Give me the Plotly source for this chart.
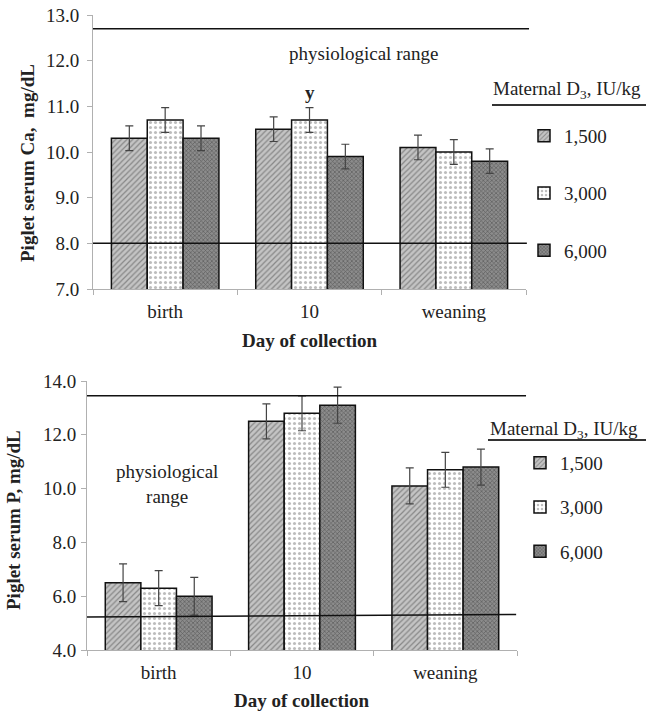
import plotly.graph_objects as go

days = ["birth", "10", "weaning"]
doses = ["1,500", "3,000", "6,000"]

ca_1500 = [10.3, 10.5, 10.1]
ca_3000 = [10.7, 10.7, 10.0]
ca_6000 = [10.3, 9.9, 9.8]
ca_err_1500 = [0.27, 0.27, 0.27]
ca_err_3000 = [0.27, 0.27, 0.27]
ca_err_6000 = [0.27, 0.27, 0.27]

p_1500 = [6.5, 12.5, 10.1]
p_3000 = [6.3, 12.8, 10.7]
p_6000 = [6.0, 13.1, 10.8]
p_err_1500 = [0.7, 0.65, 0.67]
p_err_3000 = [0.65, 0.65, 0.65]
p_err_6000 = [0.7, 0.67, 0.67]

ca_range = [8.0, 12.7]
p_range = [5.27, 13.45]

ca_ticks = [7, 8, 9, 10, 11, 12, 13]
p_ticks = [4, 6, 8, 10, 12, 14]

FONT = "Liberation Serif, Times New Roman, serif"
TXT = "#222222"
AX = "#b0b0b0"

patterns = [
    dict(shape="/", bgcolor="#c4c4c4", fgcolor="#4a4a4a", size=4, solidity=0.3),
    dict(shape=".", bgcolor="#ffffff", fgcolor="#7a7a7a", size=5, solidity=0.3),
    dict(shape="x", bgcolor="#8c8c8c", fgcolor="#303030", size=3, solidity=0.4),
]

W, H = 655, 717

def px_x(p):
    return p / W

def px_y(p):
    return 1 - p / H

fig = go.Figure()

ca_sets = [(ca_1500, ca_err_1500), (ca_3000, ca_err_3000), (ca_6000, ca_err_6000)]
p_sets = [(p_1500, p_err_1500), (p_3000, p_err_3000), (p_6000, p_err_6000)]

for i, (vals, errs) in enumerate(ca_sets):
    fig.add_trace(go.Bar(
        x=days, y=vals, name=doses[i], xaxis="x", yaxis="y",
        legend="legend", legendgroup="ca" + doses[i],
        marker=dict(color=patterns[i]["bgcolor"], line=dict(color="#111", width=1.5),
                    pattern=patterns[i]),
        error_y=dict(type="data", array=errs, color="#444", thickness=1.2, width=4),
    ))

for i, (vals, errs) in enumerate(p_sets):
    fig.add_trace(go.Bar(
        x=days, y=vals, name=doses[i], xaxis="x2", yaxis="y2",
        legend="legend2", legendgroup="p" + doses[i],
        marker=dict(color=patterns[i]["bgcolor"], line=dict(color="#111", width=1.5),
                    pattern=patterns[i]),
        error_y=dict(type="data", array=errs, color="#444", thickness=1.2, width=4),
    ))

axis_common = dict(showgrid=False, zeroline=False, showline=True, linecolor=AX, linewidth=1,
                   ticks="outside", ticklen=5, tickcolor=AX, automargin=False,
                   tickfont=dict(family=FONT, size=19, color=TXT))

fig.update_layout(
    width=W, height=H,
    margin=dict(l=0, r=0, t=0, b=0, autoexpand=False),
    paper_bgcolor="white", plot_bgcolor="white",
    barmode="group", bargap=0.255, bargroupgap=0,
    font=dict(family=FONT, size=19, color=TXT),
    xaxis=dict(domain=[px_x(93), px_x(526)], anchor="y", type="category",
               range=[-0.5, 2.5], tickangle=0, tickson="boundaries",
               ticklabelstandoff=5, **axis_common),
    yaxis=dict(domain=[px_y(289), px_y(15)], anchor="x", range=[7, 13],
               tickvals=ca_ticks, tickformat=".1f", ticklabelstandoff=4, **axis_common),
    xaxis2=dict(domain=[px_x(87), px_x(517)], anchor="y2", type="category",
                range=[-0.5, 2.5], tickangle=0, tickson="boundaries",
                ticklabelstandoff=5, **axis_common),
    yaxis2=dict(domain=[px_y(650), px_y(381)], anchor="x2", range=[4, 14],
                tickvals=p_ticks, tickformat=".1f", ticklabelstandoff=1, **axis_common),
    legend=dict(x=px_x(524), xanchor="left", y=px_y(117), yanchor="top",
                font=dict(family=FONT, size=19, color=TXT), tracegroupgap=29.5,
                itemwidth=30, bgcolor="rgba(0,0,0,0)"),
    legend2=dict(x=px_x(520), xanchor="left", y=px_y(444), yanchor="top",
                 font=dict(family=FONT, size=19, color=TXT), tracegroupgap=16.5,
                 itemwidth=30, bgcolor="rgba(0,0,0,0)"),
)

shapes = []
# physiological range lines
shapes.append(dict(type="line", xref="x domain", yref="y", x0=0, x1=1.007,
                   y0=ca_range[1], y1=ca_range[1], line=dict(color="#111", width=1.5), layer="above"))
shapes.append(dict(type="line", xref="x domain", yref="y", x0=0, x1=1.002,
                   y0=ca_range[0], y1=ca_range[0], line=dict(color="#111", width=1.5), layer="above"))
shapes.append(dict(type="line", xref="x2 domain", yref="y2", x0=0, x1=1.021,
                   y0=p_range[1], y1=p_range[1], line=dict(color="#111", width=1.5), layer="above"))
shapes.append(dict(type="line", xref="x2 domain", yref="y2", x0=0, x1=0.998,
                   y0=p_range[0] - 0.04, y1=p_range[0] + 0.05, line=dict(color="#111", width=1.5), layer="above"))
# legend title underlines
shapes.append(dict(type="line", xref="paper", yref="paper", x0=px_x(492), x1=px_x(646),
                   y0=px_y(105), y1=px_y(105), line=dict(color="#333", width=2)))
shapes.append(dict(type="line", xref="paper", yref="paper", x0=px_x(488), x1=px_x(646),
                   y0=px_y(440), y1=px_y(440), line=dict(color="#333", width=2)))
fig.update_layout(shapes=shapes)

legend_title = "Maternal D<sub>3</sub>, IU/kg"

def ann(text, x, y, **kw):
    d = dict(text=text, xref="paper", yref="paper", x=x, y=y, xanchor="center",
             yanchor="middle", showarrow=False, font=dict(size=19))
    d.update(kw)
    return d

annotations = [
    ann(legend_title, px_x(567), px_y(90)),
    ann(legend_title, px_x(564), px_y(430)),
    ann("physiological range", px_x(363), px_y(53)),
    ann("physiological<br>range", px_x(167), px_y(484)),
    ann("<b>y</b>", days.index("10"), 11.3, xref="x", yref="y"),
    ann("<b>Day of collection</b>", px_x(310), px_y(340)),
    ann("<b>Day of collection</b>", px_x(302), px_y(700)),
    ann("<b>Piglet serum Ca,  mg/dL</b>", px_x(27), px_y(163), textangle=-90),
    ann("<b>Piglet serum P, mg/dL</b>", px_x(13), px_y(520), textangle=-90),
]
fig.update_layout(annotations=annotations)

fig.write_html("out.html", config={"displayModeBar": False},
               post_script="document.body.style.margin='0';document.body.style.padding='0';")
